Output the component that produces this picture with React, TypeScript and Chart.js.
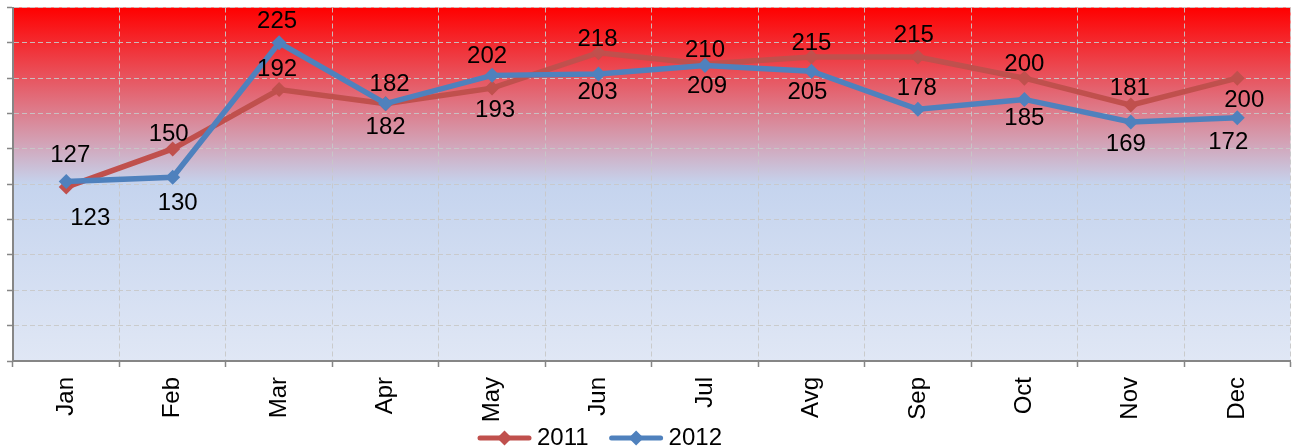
import React, { useEffect, useRef } from 'react';
import { Chart, registerables } from 'chart.js';

Chart.register(...registerables);

const months = ['Jan', 'Feb', 'Mar', 'Apr', 'May', 'Jun', 'Jul', 'Avg', 'Sep', 'Oct', 'Nov', 'Dec'];
const seriesNames = ['2011', '2012'];
const values2011 = [123, 150, 192, 182, 193, 218, 210, 215, 215, 200, 181, 200];
const values2012 = [127, 130, 225, 182, 202, 203, 209, 205, 178, 185, 169, 172];
const yMin = 0;
const yMax = 250;
const yStep = 25;

// which side of its point each data label sits on
const labelSide2011 = ['below', 'above', 'above', 'below', 'below', 'above', 'above', 'above', 'above', 'above', 'above', 'below'];
const labelSide2012 = ['above', 'below', 'above', 'above', 'above', 'below', 'below', 'below', 'above', 'below', 'below', 'below'];
// small extra nudges [dx, dy] for labels
const labelNudge2011 = [[24, 9], [-4, 4], [-2, -1], [0, 2], [3, 0], [-1, 6], [0, 5], [0, 5], [-4, -3], [0, 5], [-1, 2], [7, 0]];
const labelNudge2012 = [[4, -7], [5, 4], [-2, -2], [4, 0], [-5, 0], [-1, -4], [2, -1], [-4, -1], [-1, -2], [0, -3], [-5, 0], [-9, 3]];

const RED = '#c0504d';
const BLUE = '#4f81bd';
const FONT = "'Liberation Sans', Arial, sans-serif";
const FONT_SIZE = 24;

export default function App() {
  const ref = useRef<HTMLCanvasElement | null>(null);

  useEffect(() => {
    if (!ref.current) return;
    const sides = [labelSide2011, labelSide2012];
    const nudges = [labelNudge2011, labelNudge2012];

    const backgroundPlugin = {
      id: 'plotBackground',
      beforeDraw(chart: any) {
        const { ctx, chartArea } = chart;
        if (!chartArea) return;
        const { left, top, right, bottom } = chartArea;
        const grad = ctx.createLinearGradient(0, top, 0, bottom);
        grad.addColorStop(0, '#ff0000');
        grad.addColorStop(0.5, '#c5d4ee');
        grad.addColorStop(1, '#e0e7f5');
        ctx.save();
        ctx.fillStyle = grad;
        ctx.fillRect(left, top, right - left, bottom - top);
        ctx.restore();
      },
    };

    const labelPlugin = {
      id: 'pointValueLabels',
      afterDatasetsDraw(chart: any) {
        const ctx = chart.ctx;
        ctx.save();
        ctx.font = `${FONT_SIZE}px ${FONT}`;
        ctx.fillStyle = '#000000';
        ctx.textAlign = 'center';
        ctx.textBaseline = 'middle';
        chart.data.datasets.forEach((ds: any, di: number) => {
          const meta = chart.getDatasetMeta(di);
          meta.data.forEach((pt: any, i: number) => {
            const side = sides[di][i];
            const [dx, dy] = nudges[di][i];
            const base = side === 'above' ? -19 : 22;
            ctx.fillText(String(ds.data[i]), pt.x + dx, pt.y + base + dy);
          });
        });
        ctx.restore();
      },
    };

    // legend drawn as line + diamond samples below the axis labels
    const legendPlugin = {
      id: 'lineLegend',
      afterDraw(chart: any) {
        const ctx = chart.ctx;
        const y = 438;
        const sampleW = 55;
        let x = chart.width / 2 - 172;
        ctx.save();
        ctx.font = `${FONT_SIZE}px ${FONT}`;
        ctx.textAlign = 'left';
        ctx.textBaseline = 'middle';
        chart.data.datasets.forEach((ds: any) => {
          const color = ds.borderColor;
          ctx.strokeStyle = color;
          ctx.fillStyle = color;
          ctx.lineWidth = 5;
          ctx.lineCap = 'round';
          ctx.beginPath();
          ctx.moveTo(x + 3, y);
          ctx.lineTo(x + sampleW - 3, y);
          ctx.stroke();
          const cx = x + sampleW / 2;
          ctx.beginPath();
          ctx.moveTo(cx, y - 7.5);
          ctx.lineTo(cx + 7.5, y);
          ctx.lineTo(cx, y + 7.5);
          ctx.lineTo(cx - 7.5, y);
          ctx.closePath();
          ctx.fill();
          ctx.fillStyle = '#000000';
          const tx = x + sampleW + 5;
          ctx.fillText(ds.label, tx, y);
          x = tx + ctx.measureText(ds.label).width + 20;
        });
        ctx.restore();
      },
    };

    Chart.defaults.font.family = FONT;

    const chart = new Chart(ref.current, {
      type: 'line',
      data: {
        labels: months,
        datasets: [
          {
            label: seriesNames[0],
            data: values2011,
            borderColor: RED,
            backgroundColor: RED,
            borderWidth: 5.5,
            pointStyle: 'rectRot',
            pointRadius: 7.5,
            pointBorderWidth: 0,
            pointBackgroundColor: RED,
            tension: 0,
            order: 1,
          },
          {
            label: seriesNames[1],
            data: values2012,
            borderColor: BLUE,
            backgroundColor: BLUE,
            borderWidth: 5.5,
            pointStyle: 'rectRot',
            pointRadius: 7.5,
            pointBorderWidth: 0,
            pointBackgroundColor: BLUE,
            tension: 0,
            order: 0,
          },
        ],
      },
      options: {
        animation: false,
        responsive: true,
        maintainAspectRatio: false,
        layout: { padding: { left: 6, right: 5, top: 7, bottom: 24 } },
        plugins: {
          tooltip: { enabled: false },
          legend: { display: false },
        },
        scales: {
          x: {
            type: 'category',
            offset: true,
            grid: {
              display: true,
              offset: true,
              color: 'rgba(200,200,200,0.9)',
              lineWidth: 1,
              drawTicks: true,
              tickLength: 6,
              tickColor: '#868686',
              tickWidth: 1.5,
            },
            border: { display: true, color: '#868686', width: 2, dash: [5, 3] },
            ticks: {
              minRotation: 90,
              maxRotation: 90,
              autoSkip: false,
              padding: 10,
              color: '#000000',
              font: { size: FONT_SIZE, family: FONT },
            },
            afterFit: (scale: any) => {
              scale.height = 63;
            },
          },
          y: {
            min: yMin,
            max: yMax,
            grid: {
              color: 'rgba(200,200,200,0.9)',
              lineWidth: 1,
              drawTicks: true,
              tickLength: 6,
              tickColor: '#868686',
              tickWidth: 1.5,
            },
            border: { display: true, color: '#868686', width: 2, dash: [5, 3] },
            ticks: { display: false, stepSize: yStep },
            afterFit: (scale: any) => {
              scale.width = 7;
            },
          },
        },
      },
      plugins: [backgroundPlugin, labelPlugin, legendPlugin],
    } as any);

    return () => chart.destroy();
  }, []);

  return (
    <div style={{ position: 'absolute', left: 0, top: 0, width: 1298, height: 448, background: '#ffffff' }}>
      <canvas ref={ref} />
    </div>
  );
}
